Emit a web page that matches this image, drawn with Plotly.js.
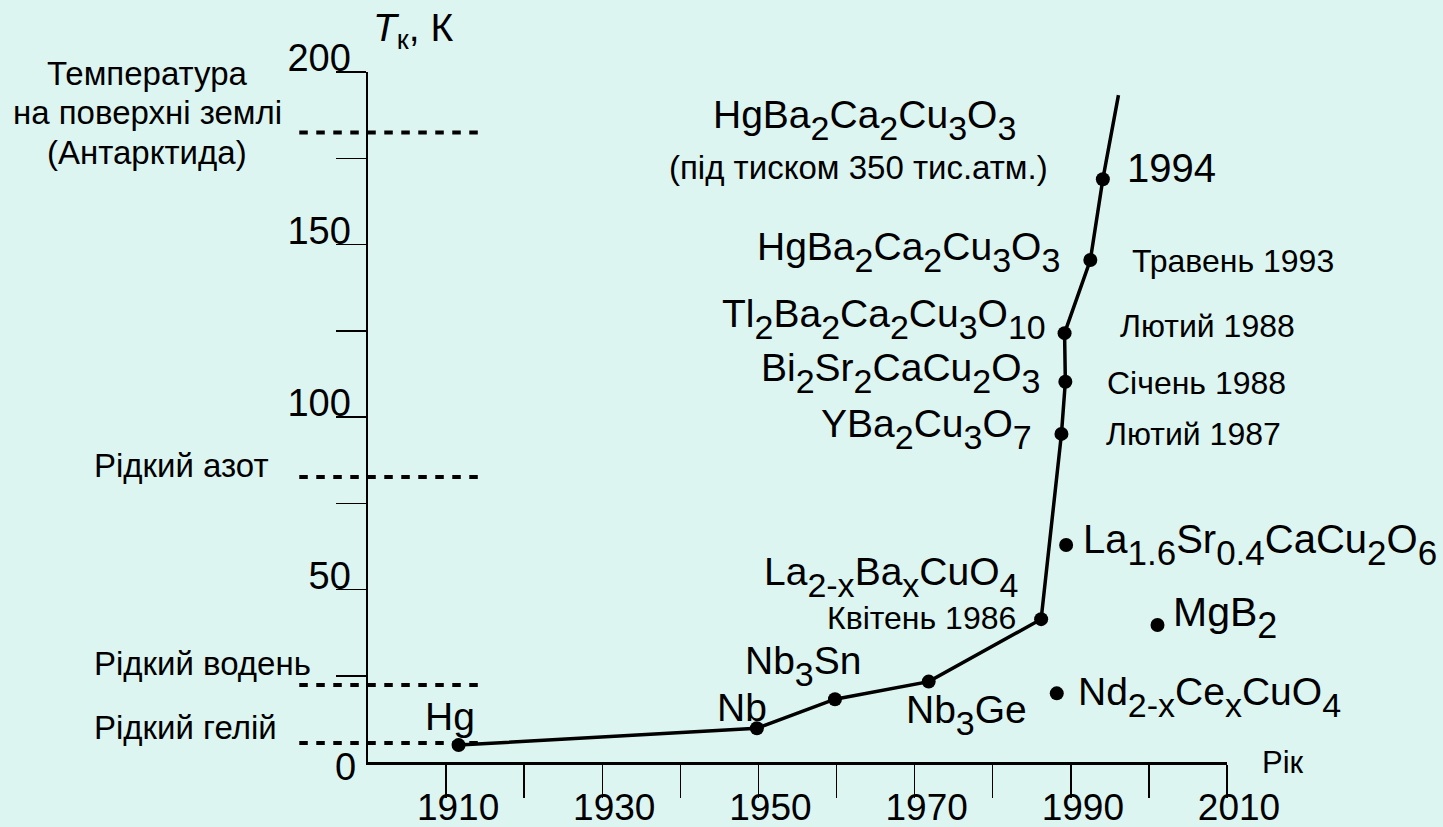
<!DOCTYPE html>
<html><head><meta charset="utf-8">
<script src="https://cdn.plot.ly/plotly-3.0.1.min.js"></script>
<style>html,body{margin:0;padding:0;background:rgb(221,245,240);} #chart{width:1443px;height:827px;}</style>
</head><body><div id="chart"></div>
<script>
// ---------- data ----------
const milestoneNames = ['Hg', 'Nb', 'Nb{3}Sn', 'Nb{3}Ge', 'La{2-x}Ba{x}CuO{4}', 'YBa{2}Cu{3}O{7}',
  'Bi{2}Sr{2}CaCu{2}O{3}', 'Tl{2}Ba{2}Ca{2}Cu{3}O{10}', 'HgBa{2}Ca{2}Cu{3}O{3}', 'HgBa{2}Ca{2}Cu{3}O{3}'];
const milestoneYears = [1911.6, 1949.8, 1959.8, 1971.8, 1986.2, 1988.8, 1989.3, 1989.2, 1992.5, 1994.1];
const milestoneTc = [4.9, 9.8, 18.2, 23.3, 41.4, 95.1, 110.2, 124.3, 145.5, 168.9];
const milestoneDates = ['', '', '', '', 'Квітень 1986', 'Лютий 1987', 'Січень 1988', 'Лютий 1988', 'Травень 1993', '1994'];
const pressureNote = '(під тиском 350 тис.атм.)';
const trendEndYear = 1996.1;
const trendEndTc = 193.3;

const otherNames = ['La{1.6}Sr{0.4}CaCu{2}O{6}', 'MgB{2}', 'Nd{2-x}Ce{x}CuO{4}'];
const otherYears = [1989.4, 2001.1, 1988.2];
const otherTc = [62.9, 39.7, 19.9];

const levelNames = ['Температура<br>на поверхні землі<br>(Антарктида)', 'Рідкий азот', 'Рідкий водень', 'Рідкий гелій'];
const levelTemps = [182.5, 82.6, 22.3, 5.5];

const xTickVals = [1910, 1920, 1930, 1940, 1950, 1960, 1970, 1980, 1990, 2000, 2010];
const xTickText = ['1910', '', '1930', '', '1950', '', '1970', '', '1990', '', '2010'];
const yTickVals = [25, 50, 75, 100, 125, 150, 175, 200];
const yTickText = ['', '50', '', '100', '', '150', '', '200'];
const yZeroLabel = '0';
const yTitle = '<i>T</i><sub>к</sub>, К';
const xTitle = 'Рік';

// ---------- styling ----------
const FONT = 'Liberation Sans, Arial, Helvetica, sans-serif';
const BG = 'rgb(221,245,240)';
function chem(s, size) {
  const sz = Math.round(size * 0.88);
  return s.replace(/\{([^}]*)\}/g, (m, g) =>
    '<span style="font-size:' + sz + 'px;baseline-shift:-' + Math.round(size * 0.3) + 'px">' + g + '</span>');
}

const nameLayout = [
  {xa: 'center', dx: -9, dy: 29, size: 39},
  {xa: 'center', dx: -15, dy: 21, size: 39},
  {xa: 'left', dx: -92, dy: 33, size: 39},
  {xa: 'left', dx: -25, dy: -33, size: 39},
  {xa: 'right', dx: -21, dy: 42, size: 39},
  {xa: 'right', dx: -27, dy: 5, size: 39},
  {xa: 'right', dx: -23, dy: 9, size: 39},
  {xa: 'right', dx: -17, dy: 14, size: 39},
  {xa: 'right', dx: -28, dy: 8, size: 39},
  {xa: 'center', dx: -238, dy: 59, size: 39}
];
const dateLayout = [null, null, null, null,
  {xa: 'right', dx: -23, dy: 1, size: 32},
  {xa: 'left', dx: 43, dy: 0, size: 32},
  {xa: 'left', dx: 40, dy: -1, size: 32},
  {xa: 'left', dx: 53, dy: 7, size: 32},
  {xa: 'left', dx: 40, dy: -1, size: 32},
  {xa: 'left', dx: 22, dy: 11, size: 40}
];
const otherLayout = [
  {dx: 15, dy: 1, size: 40},
  {dx: 13, dy: 8, size: 41},
  {dx: 19, dy: -4, size: 39}
];
const levelLayout = [
  {xa: 'center', dx: -221, dys: [59, 20, -20]},
  {xa: 'left', dx: -276, dys: [12]},
  {xa: 'left', dx: -276, dys: [22]},
  {xa: 'left', dx: -276, dys: [16]}
];

const annotations = [];
milestoneNames.forEach((n, i) => {
  const L = nameLayout[i];
  annotations.push({x: milestoneYears[i], y: milestoneTc[i], xref: 'x', yref: 'y', showarrow: false,
    text: chem(n, L.size), xanchor: L.xa, yanchor: 'middle', xshift: L.dx, yshift: L.dy,
    font: {family: FONT, size: L.size, color: '#000'}});
  const D = dateLayout[i];
  if (D && milestoneDates[i]) {
    annotations.push({x: milestoneYears[i], y: milestoneTc[i], xref: 'x', yref: 'y', showarrow: false,
      text: milestoneDates[i], xanchor: D.xa, yanchor: 'middle', xshift: D.dx, yshift: D.dy,
      font: {family: FONT, size: D.size, color: '#000'}});
  }
});
// pressure note below the top formula (belongs to the last milestone)
const lastI = milestoneYears.length - 1;
annotations.push({x: milestoneYears[lastI], y: milestoneTc[lastI], xref: 'x', yref: 'y', showarrow: false,
  text: pressureNote, xanchor: 'center', yanchor: 'middle', xshift: -244, yshift: 12,
  font: {family: FONT, size: 33, color: '#000'}});

otherNames.forEach((n, i) => {
  const L = otherLayout[i];
  annotations.push({x: otherYears[i], y: otherTc[i], xref: 'x', yref: 'y', showarrow: false,
    text: chem(n, L.size), xanchor: 'left', yanchor: 'middle', xshift: L.dx, yshift: L.dy,
    font: {family: FONT, size: L.size, color: '#000'}});
});

levelNames.forEach((n, i) => {
  const L = levelLayout[i];
  n.split('<br>').forEach((line, j) => {
    annotations.push({x: 0, y: levelTemps[i], xref: 'paper', yref: 'y', showarrow: false,
      text: line, xanchor: L.xa, yanchor: 'middle', xshift: L.dx, yshift: L.dys[j],
      font: {family: FONT, size: 33, color: '#000'}});
  });
});

annotations.push({x: 0, y: 0, xref: 'paper', yref: 'y', showarrow: false, text: yZeroLabel,
  xanchor: 'center', yanchor: 'middle', xshift: -23, yshift: -5, font: {family: FONT, size: 38, color: '#000'}});
annotations.push({x: 0, y: 1, xref: 'paper', yref: 'paper', showarrow: false, text: yTitle,
  xanchor: 'left', yanchor: 'middle', xshift: 3, yshift: 42, font: {family: FONT, size: 39, color: '#000'}});
annotations.push({x: 1, y: 0, xref: 'paper', yref: 'paper', showarrow: false, text: xTitle,
  xanchor: 'left', yanchor: 'middle', xshift: 33, yshift: 0, font: {family: FONT, size: 31, color: '#000'}});

const shapes = levelTemps.map(t => ({type: 'line', xref: 'paper', yref: 'y', x0: -0.08, x1: 0.137, y0: t, y1: t,
  line: {color: '#000', width: 4, dash: '8.5px,8.5px'}}));

const traces = [
  {x: milestoneYears.concat([trendEndYear]), y: milestoneTc.concat([trendEndTc]), mode: 'lines',
   line: {color: '#000', width: 3.5}, hoverinfo: 'skip', cliponaxis: false},
  {x: milestoneYears.concat(otherYears), y: milestoneTc.concat(otherTc), mode: 'markers',
   marker: {color: '#000', size: 14}, hoverinfo: 'skip', cliponaxis: false}
];

const layout = {
  width: 1443, height: 827,
  paper_bgcolor: BG, plot_bgcolor: BG,
  margin: {l: 368, r: 216, t: 72, b: 65, pad: 0},
  showlegend: false,
  xaxis: {range: [1900, 2010], showgrid: false, zeroline: false, showline: true, linecolor: '#000', linewidth: 2.5,
    tickmode: 'array', tickvals: xTickVals, ticktext: xTickText, ticks: 'outside', ticklen: 33, tickwidth: 1.5,
    tickcolor: '#000', tickfont: {family: FONT, size: 37, color: '#000'}, ticklabelshift: 12, ticklabelstandoff: -22},
  yaxis: {range: [0, 200], showgrid: false, zeroline: false, showline: true, linecolor: '#000', linewidth: 2.5,
    tickmode: 'array', tickvals: yTickVals, ticktext: yTickText, ticks: 'outside', ticklen: 30, tickwidth: 1.5,
    tickcolor: '#000', tickfont: {family: FONT, size: 38, color: '#000'}, ticklabelshift: -14, ticklabelstandoff: -23},
  annotations: annotations,
  shapes: shapes
};

Plotly.newPlot('chart', traces, layout, {staticPlot: true, displayModeBar: false});
</script></body></html>
